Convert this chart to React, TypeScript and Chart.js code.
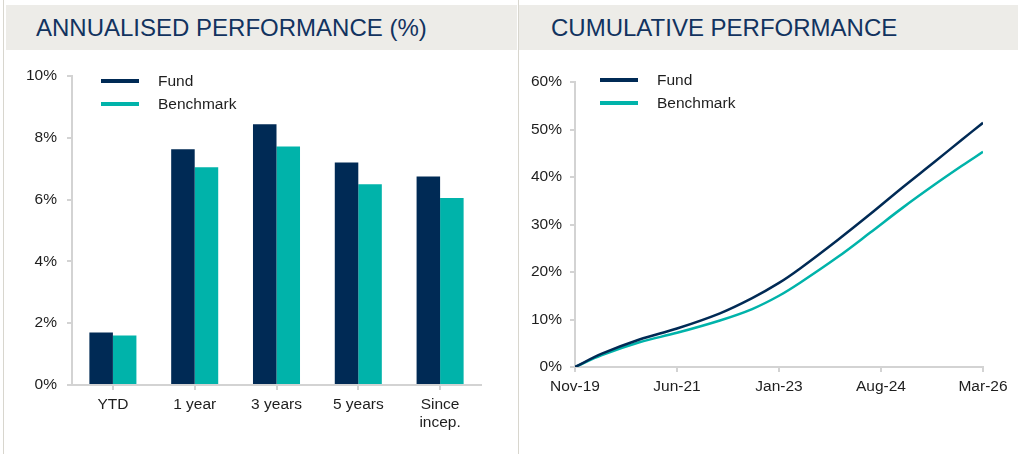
import React, { useEffect, useRef } from "react";
import { Chart, registerables } from "chart.js";

Chart.register(...registerables);

// ---------- Data ----------
const barCategories: (string | string[])[] = ["YTD", "1 year", "3 years", "5 years", ["Since", "incep."]];
const barFund = [1.7, 7.63, 8.44, 7.2, 6.75];
const barBenchmark = [1.6, 7.05, 7.72, 6.5, 6.05];
const barTickMax = 10;
const barTickStep = 2;

const lineMonths = [0, 5, 12, 19, 27, 33, 38, 42, 49, 55, 61, 67, 72, 76];
const lineFund = [0, 2.8, 5.8, 8.1, 11.3, 14.5, 17.7, 20.8, 26.8, 32.2, 37.8, 43.2, 47.8, 51.4];
const lineBenchmark = [0, 2.5, 5.2, 7.2, 9.8, 12.2, 15.0, 17.8, 23.2, 28.3, 33.5, 38.4, 42.3, 45.3];
const lineTickLabels = ["Nov-19", "Jun-21", "Jan-23", "Aug-24", "Mar-26"];
const lineTickStepMonths = 19;
const lineTickMax = 60;
const lineTickStep = 10;

// ---------- Styles ----------
const FUND = "#002A55";
const BENCH = "#00B3AA";
const AXIS = "#D3D3D3";
const TEXT = "#1E1E1E";
const TITLE = "#12335F";
const BAND = "#EDECE8";
const FONT = "'Liberation Sans', Arial, sans-serif";
const TICK_FONT = { family: FONT, size: 15.5 };

const lineLegend = {
  id: "lineLegend",
  afterDraw(chart: any, _args: any, opts: any) {
    const ctx = chart.ctx as CanvasRenderingContext2D;
    ctx.save();
    ctx.font = `${opts.size}px ${FONT}`;
    ctx.textBaseline = "middle";
    ctx.textAlign = "left";
    chart.data.datasets.forEach((ds: any, i: number) => {
      const y = opts.y + i * opts.gap;
      ctx.strokeStyle = ds.legendColor;
      ctx.lineWidth = 4;
      ctx.beginPath();
      ctx.moveTo(opts.x, y);
      ctx.lineTo(opts.x + 38, y);
      ctx.stroke();
      ctx.fillStyle = TEXT;
      ctx.fillText(ds.label, opts.x + 57, y + 1);
    });
    ctx.restore();
  },
};

function ChartBox({ config, style, width, height }: any) {
  const ref = useRef<HTMLCanvasElement>(null);
  useEffect(() => {
    const chart = new Chart(ref.current as HTMLCanvasElement, config);
    return () => chart.destroy();
  }, []);
  return <canvas ref={ref} width={width} height={height} style={{ position: "absolute", width, height, ...style }} />;
}

const axisGrid = { display: true, drawOnChartArea: false, drawTicks: true, tickLength: 5, color: AXIS, lineWidth: 2 };
const axisBorder = { display: true, color: AXIS, width: 2 };

const barConfig: any = {
  type: "bar",
  data: {
    labels: barCategories,
    datasets: [
      { label: "Fund", data: barFund, backgroundColor: FUND, legendColor: FUND, borderWidth: 0, barPercentage: 1, categoryPercentage: 0.575 },
      { label: "Benchmark", data: barBenchmark, backgroundColor: BENCH, legendColor: BENCH, borderWidth: 0, barPercentage: 1, categoryPercentage: 0.575 },
    ],
  },
  options: {
    animation: false,
    responsive: false,
    devicePixelRatio: 1,
    layout: { padding: { left: 0, right: 36, top: 21, bottom: 0 } },
    plugins: {
      legend: { display: false },
      tooltip: { enabled: false },
      lineLegend: { x: 101, y: 26, gap: 23, size: 15.5 },
    },
    scales: {
      x: {
        grid: { ...axisGrid, offset: false },
        border: axisBorder,
        ticks: { color: TEXT, font: { ...TICK_FONT, lineHeight: 1.15 }, padding: 6, maxRotation: 0, autoSkip: false },
        afterFit: (s: any) => { s.height = 69; },
      },
      y: {
        min: 0,
        max: barTickMax,
        grid: axisGrid,
        border: axisBorder,
        ticks: { stepSize: barTickStep, color: TEXT, font: TICK_FONT, padding: 10, callback: (v: any) => `${v}%` },
        afterFit: (s: any) => { s.width = 72; },
      },
    },
  },
  plugins: [lineLegend],
};

const lineConfig: any = {
  type: "line",
  data: {
    datasets: [
      {
        label: "Fund",
        data: lineMonths.map((m, i) => ({ x: m, y: lineFund[i] })),
        borderColor: FUND,
        legendColor: FUND,
        borderWidth: 2.5,
        pointRadius: 0,
        tension: 0.35,
      },
      {
        label: "Benchmark",
        data: lineMonths.map((m, i) => ({ x: m, y: lineBenchmark[i] })),
        borderColor: BENCH,
        legendColor: BENCH,
        borderWidth: 2.5,
        pointRadius: 0,
        tension: 0.35,
      },
    ],
  },
  options: {
    animation: false,
    responsive: false,
    devicePixelRatio: 1,
    layout: { padding: { left: 0, right: 36, top: 27, bottom: 0 } },
    plugins: {
      legend: { display: false },
      tooltip: { enabled: false },
      lineLegend: { x: 81, y: 25, gap: 23, size: 15.5 },
    },
    scales: {
      x: {
        type: "linear",
        min: 0,
        max: lineTickStepMonths * (lineTickLabels.length - 1),
        grid: axisGrid,
        border: axisBorder,
        ticks: {
          stepSize: lineTickStepMonths,
          color: TEXT,
          font: TICK_FONT,
          padding: 5,
          maxRotation: 0,
          autoSkip: false,
          callback: (v: any) => lineTickLabels[Math.round(v / lineTickStepMonths)],
        },
        afterFit: (s: any) => { s.height = 87; },
      },
      y: {
        min: 0,
        max: lineTickMax,
        grid: axisGrid,
        border: axisBorder,
        ticks: { stepSize: lineTickStep, color: TEXT, font: TICK_FONT, padding: 8, callback: (v: any) => `${v}%` },
        afterFit: (s: any) => { s.width = 56; },
      },
    },
  },
  plugins: [lineLegend],
};

export default function App() {
  const titleStyle: React.CSSProperties = {
    position: "absolute",
    top: 5,
    height: 45,
    background: BAND,
    color: TITLE,
    fontFamily: FONT,
    fontSize: 24,
    lineHeight: "45px",
    boxSizing: "border-box",
    whiteSpace: "nowrap",
  };
  return (
    <div style={{ position: "fixed", left: 0, top: 0, width: 1019, height: 454, background: "#fff", overflow: "hidden" }}>
      <div style={{ position: "absolute", left: 3, top: 0, width: 1, height: 454, background: "#D8D6CE" }} />
      <div style={{ position: "absolute", left: 518, top: 0, width: 1, height: 454, background: "#D8D6CE" }} />
      <div style={{ ...titleStyle, left: 6, width: 511, paddingLeft: 30 }}>ANNUALISED PERFORMANCE (%)</div>
      <div style={{ ...titleStyle, left: 519, width: 499, paddingLeft: 32 }}>CUMULATIVE PERFORMANCE</div>
      <ChartBox config={barConfig} width={517} height={399} style={{ left: 0, top: 55 }} />
      <ChartBox config={lineConfig} width={500} height={399} style={{ left: 519, top: 55 }} />
    </div>
  );
}
